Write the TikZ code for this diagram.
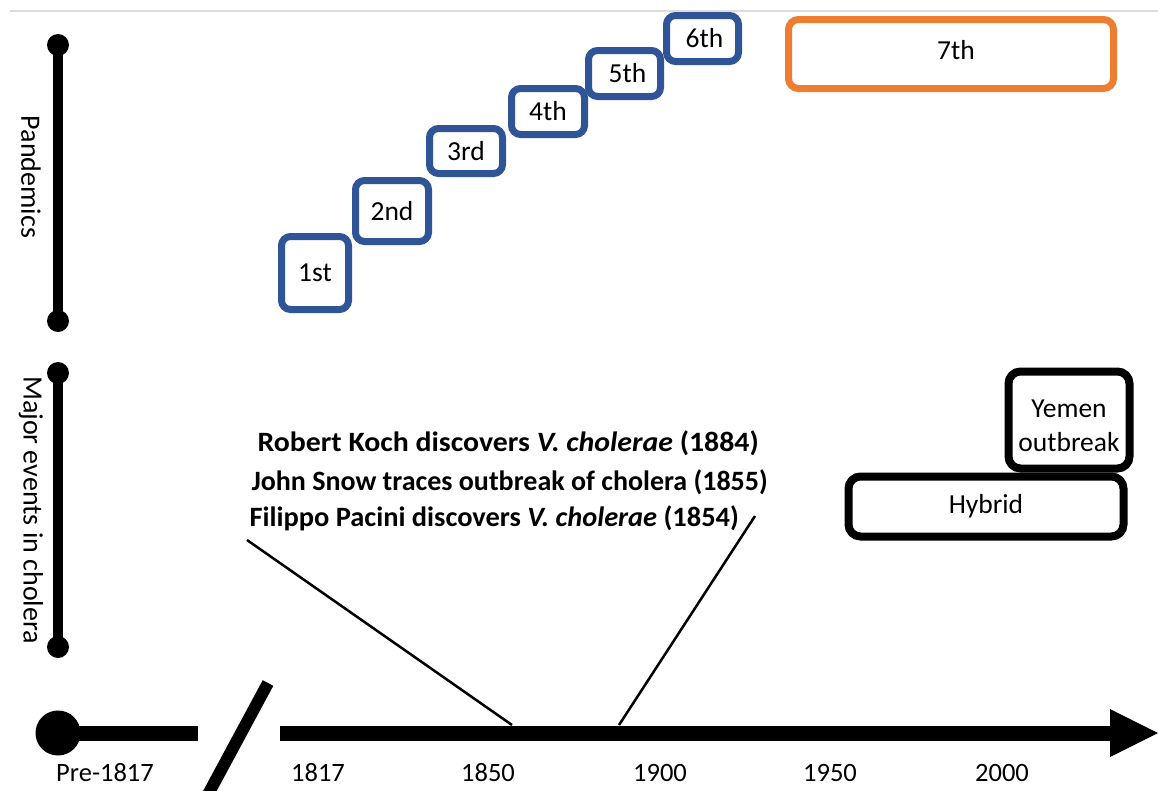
\documentclass[tikz,border=0pt]{standalone}
\usepackage{fontspec}
\setmainfont{Carlito}
\definecolor{pblue}{HTML}{2F5597}
\definecolor{porange}{HTML}{ED7D31}
\definecolor{topgray}{HTML}{DDDDDD}
\begin{document}
\begin{tikzpicture}[x=1pt,y=-1pt,
  boxtext/.style={font=\fontsize{27.5}{34}\selectfont},
  pbox/.style={draw=pblue, line width=7pt, rounded corners=9pt, fill=white, inner sep=0pt, boxtext},
  obox/.style={draw=porange, line width=7pt, rounded corners=10pt, fill=white, inner sep=0pt, boxtext},
  kbox/.style={draw=black, line width=8pt, rounded corners=12pt, fill=white, inner sep=0pt, boxtext, align=center},
  dot/.style={circle, fill=black, minimum size=22pt, inner sep=0pt},
  axlabel/.style={rotate=-90, font=\fontsize{28}{32}\selectfont},
  tick/.style={anchor=base, inner sep=0pt, font=\fontsize{26.5}{30}\selectfont},
  event/.style={anchor=west, font=\fontsize{28}{32}\selectfont\bfseries},
  leader/.style={line width=2.5pt}
]
\useasboundingbox (0,0) rectangle (1158,790);
% top gray rule
\coordinate (g1) at (10,11);
\coordinate (g2) at (1158,11);
\draw[topgray, line width=2pt] (g1) -- (g2);

% Pandemics axis
\node[dot] (pTop) at (58,45) {};
\node[dot] (pBot) at (58,321) {};
\draw[line width=10pt] (pTop.center) -- (pBot.center);
\node[axlabel] (pLab) at (31,177) {Pandemics};

% Major events axis
\node[dot] (mTop) at (58,373) {};
\node[dot] (mBot) at (58,647) {};
\draw[line width=10pt] (mTop.center) -- (mBot.center);
\node[axlabel] (mLab) at (31,510) {Major events in cholera};

% pandemic boxes
\node[pbox, minimum width=67pt, minimum height=73pt] (p1) at (315,273) {\raisebox{-2pt}{1st}};
\node[pbox, minimum width=73pt, minimum height=61pt] (p2) at (392,211) {2nd};
\node[pbox, minimum width=73pt, minimum height=45pt] (p3) at (466,151) {3rd};
\node[pbox, minimum width=73pt, minimum height=46pt] (p4) at (548,111.5) {4th};
\node[pbox, minimum width=72pt, minimum height=46pt] (p5) at (624.5,73.5) {\hspace{6pt}5th};
\node[pbox, minimum width=72pt, minimum height=46pt] (p6) at (702.5,38.5) {\hspace{4pt}6th};
\node[obox, minimum width=325pt, minimum height=69pt] (p7) at (951,54) {\raisebox{8pt}{\hspace{10pt}7th}};

% events boxes
\node[kbox, minimum width=121pt, minimum height=97pt] (yemen) at (1069,420) {\rule{0pt}{30pt}Yemen\\outbreak};
\node[kbox, minimum width=275pt, minimum height=60pt] (hybrid) at (986,506.5) {Hybrid};

% event texts
\node[event] (koch) at (254,443) {\scalebox{1.065}[1]{Robert Koch discovers \textit{V. cholerae} (1884)}};
\node[event] (snow) at (248,482) {John Snow traces outbreak of cholera (1855)};
\node[event] (pacini) at (246,518) {\scalebox{1.015}[1]{Filippo Pacini discovers \textit{V. cholerae} (1854)}};

% time axis
\node[circle, fill=black, minimum size=45pt, inner sep=0pt] (start) at (58,733) {};
\coordinate (preEnd) at (198,733);
\draw[line width=15pt] (start.center) -- (preEnd);
\coordinate (s1) at (268,683);
\coordinate (s2) at (205,800);
\draw[line width=12pt] (s1) -- (s2);
\coordinate (axStart) at (280,733);
\coordinate (axEnd) at (1112,733);
\draw[line width=15pt] (axStart) -- (axEnd);
\coordinate (h1) at (1110,709);
\coordinate (h2) at (1158,733);
\coordinate (h3) at (1110,757);
\fill (h1) -- (h2) -- (h3) -- cycle;

% leader lines
\coordinate (l1a) at (247,540);
\coordinate (l1b) at (512,725);
\coordinate (l2a) at (755,516);
\coordinate (l2b) at (619,725);
\draw[leader] (l1a) -- (l1b);
\draw[leader] (l2a) -- (l2b);

% tick labels
\node[tick] (t0) at (105,781) {Pre-1817};
\node[tick] (t1) at (318,781) {1817};
\node[tick] (t2) at (488,781) {1850};
\node[tick] (t3) at (660,781) {1900};
\node[tick] (t4) at (830,781) {1950};
\node[tick] (t5) at (1002,781) {2000};
\end{tikzpicture}
\end{document}
